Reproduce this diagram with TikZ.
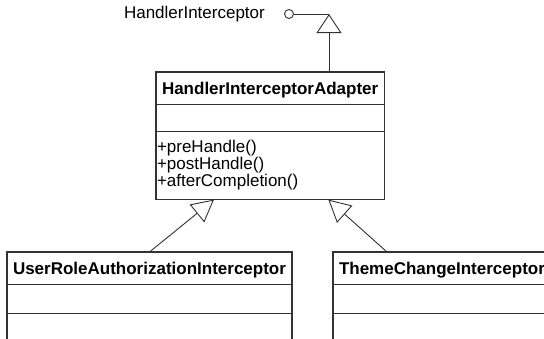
\documentclass[tikz,border=0pt]{standalone}
\usepackage{fontspec}
\setmainfont{Liberation Sans}
\usetikzlibrary{arrows.meta,positioning,shapes.multipart}
\definecolor{umlline}{gray}{0.2}
\tikzstyle{cls}=[rectangle split,rectangle split parts=3,
  rectangle split part align={left},
  draw=umlline,line width=1.2pt,fill=white,
  inner xsep=6pt,inner ysep=0pt,outer sep=0pt,anchor=north west]
\tikzstyle{gen}=[-{Triangle[fill=white,length=22pt,width=23pt]},draw=umlline,line width=0.9pt]
\tikzstyle{realize}=[-{Triangle[fill=white,length=19pt,width=25pt]},draw=umlline,line width=0.9pt]
\tikzstyle{lolli}=[circle,draw=umlline,line width=0.9pt,minimum size=9pt,inner sep=0pt]
\newcommand\clsname[1]{\rule[-9pt]{0pt}{31pt}\textbf{#1}}
\newcommand\clsempty[1]{\rule{0pt}{#1}}
\newcommand\clsops[1]{\hspace*{-5pt}\rule[-47pt]{0pt}{67pt}%
  \begin{tabular}[t]{@{}l@{}}#1\end{tabular}}

\begin{document}
\begin{tikzpicture}[x=1pt,y=-1pt,font=\fontsize{17}{17}\selectfont]
  \useasboundingbox (0,0) rectangle (544,338);
  \clip (0,0) rectangle (544,338);

  % classes
  \node[cls] (adapter) at (156,72) {\clsname{HandlerInterceptorAdapter}
    \nodepart{second}\clsempty{26pt}
    \nodepart{third}\clsops{+preHandle()\\+postHandle()\\+afterCompletion()}};
  \node[cls] (user) at (7,252) {\clsname{UserRoleAuthorizationInterceptor}
    \nodepart{second}\clsempty{28pt}
    \nodepart{third}\clsempty{30pt}};
  \node[cls] (theme) at (333,252) {\clsname{ThemeChangeInterceptor}
    \nodepart{second}\clsempty{28pt}
    \nodepart{third}\clsempty{30pt}};

  % interface lollipop
  \node[lolli] (hi) at (289,14) {};
  \node[left=19pt of hi,inner sep=0pt] (hiname) {HandlerInterceptor};
  \coordinate (hiTip) at (329,14);
  \draw[umlline,line width=0.9pt] (hi) -- (hiTip);
  \draw[realize] (adapter.north -| hiTip) -- (hiTip);

  % generalizations
  \draw[gen] (user.north) -- ([xshift=58pt]adapter.south west);
  \draw[gen] ([xshift=54pt]theme.north west) -- ([xshift=-56pt]adapter.south east);
\end{tikzpicture}
\end{document}
